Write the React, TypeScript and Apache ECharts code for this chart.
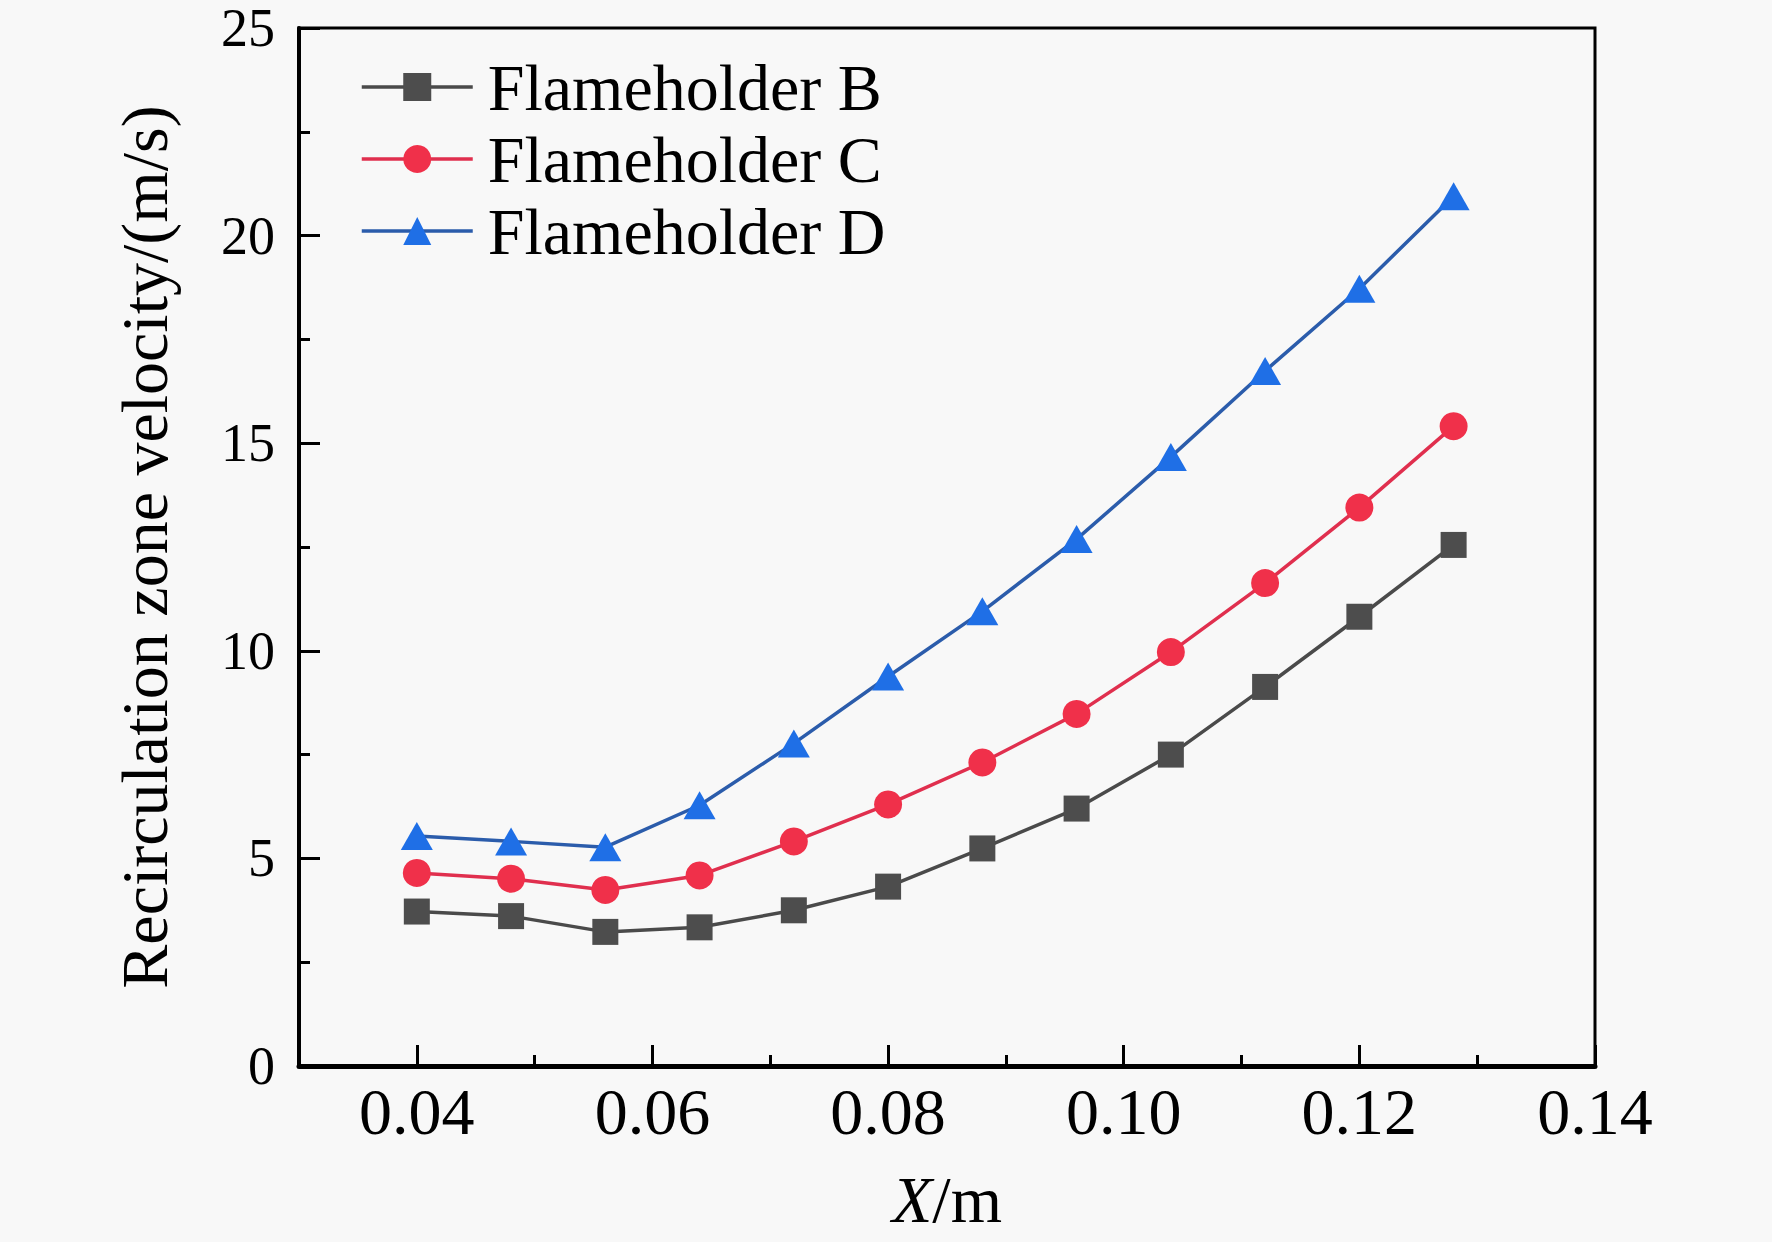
import React, { useEffect, useRef } from "react";
import * as echarts from "echarts";

const xValues = [0.04, 0.048, 0.056, 0.064, 0.072, 0.08, 0.088, 0.096, 0.104, 0.112, 0.12, 0.128];
const seriesB = [3.72, 3.61, 3.23, 3.34, 3.75, 4.32, 5.24, 6.2, 7.5, 9.13, 10.82, 12.55];
const seriesC = [4.65, 4.51, 4.24, 4.59, 5.41, 6.3, 7.31, 8.48, 9.97, 11.63, 13.45, 15.41];
const seriesD = [5.54, 5.41, 5.27, 6.28, 7.77, 9.38, 10.95, 12.69, 14.67, 16.74, 18.72, 20.95];
const xMajorTicks = [0.04, 0.06, 0.08, 0.1, 0.12, 0.14];
const xMinorTicks = [0.05, 0.07, 0.09, 0.11, 0.13];
const seriesNames = ["Flameholder B", "Flameholder C", "Flameholder D"];

const FONT = "'Liberation Serif', 'Times New Roman', serif";

export default function App() {
  const ref = useRef<HTMLDivElement>(null);
  useEffect(() => {
    if (!ref.current) return;
    const chart = echarts.init(ref.current, null, { renderer: "svg" });
    const pair = (ys: number[]) => xValues.map((x, i) => [x, ys[i]]);
    chart.setOption({
      animation: false,
      backgroundColor: "#f8f8f8",
      textStyle: { fontFamily: FONT },
      grid: {
        left: 299,
        top: 28,
        right: 177,
        bottom: 176,
        show: true,
        borderColor: "#000",
        borderWidth: 3,
        backgroundColor: "transparent",
      },
      legend: {
        left: 355,
        top: 49,
        orient: "vertical",
        itemWidth: 111,
        itemHeight: 35,
        itemGap: 6,
        lineStyle: { width: 3.5 },
        textStyle: {
          fontFamily: FONT,
          fontSize: 66,
          lineHeight: 66,
          color: "#000",
          padding: [0, 0, 0, 10],
        },
        data: seriesNames,
      },
      xAxis: [
        {
          type: "value",
          min: 0.03,
          max: 0.14,
          position: "bottom",
          name: "{i|X}/m",
          nameLocation: "middle",
          nameGap: 100,
          nameTextStyle: {
            fontFamily: FONT,
            fontSize: 66,
            color: "#000",
            rich: {
              i: { fontFamily: FONT, fontSize: 66, fontStyle: "italic", color: "#000" },
            },
          },
          axisLine: { show: true, lineStyle: { color: "#000", width: 5 } },
          axisTick: {
            show: true,
            inside: true,
            length: 21,
            lineStyle: { color: "#000", width: 3 },
            customValues: xMajorTicks,
          },
          axisLabel: {
            show: true,
            fontFamily: FONT,
            fontSize: 66,
            color: "#000",
            margin: 12,
            customValues: xMajorTicks,
            formatter: (v: number) => v.toFixed(2),
          },
          splitLine: { show: false },
        },
        {
          type: "value",
          min: 0.03,
          max: 0.14,
          position: "bottom",
          axisLine: { show: false },
          axisTick: {
            show: true,
            inside: true,
            length: 11,
            lineStyle: { color: "#000", width: 3 },
            customValues: xMinorTicks,
          },
          axisLabel: { show: false },
          splitLine: { show: false },
        },
      ],
      yAxis: {
        type: "value",
        min: 0,
        max: 25,
        interval: 5,
        name: "Recirculation zone velocity/(m/s)",
        nameLocation: "middle",
        nameGap: 122,
        nameTextStyle: { fontFamily: FONT, fontSize: 66, color: "#000" },
        axisLine: { show: true, lineStyle: { color: "#000", width: 4 } },
        axisTick: { show: true, inside: true, length: 21, lineStyle: { color: "#000", width: 3 } },
        minorTick: { show: true, splitNumber: 2, length: 11, lineStyle: { color: "#000", width: 3 } },
        axisLabel: { fontFamily: FONT, fontSize: 54, lineHeight: 40, color: "#000", margin: 24 },
        splitLine: { show: false },
        minorSplitLine: { show: false },
      },
      series: [
        {
          name: seriesNames[0],
          type: "line",
          xAxisIndex: 0,
          data: pair(seriesB),
          symbol: "rect",
          symbolSize: 26,
          itemStyle: { color: "#4d4d4d" },
          lineStyle: { color: "#4a4a4a", width: 3.5 },
        },
        {
          name: seriesNames[1],
          type: "line",
          xAxisIndex: 0,
          data: pair(seriesC),
          symbol: "circle",
          symbolSize: 28,
          itemStyle: { color: "#f0304a" },
          lineStyle: { color: "#e02f4e", width: 3.5 },
        },
        {
          name: seriesNames[2],
          type: "line",
          xAxisIndex: 0,
          data: pair(seriesD),
          symbol: "triangle",
          symbolSize: [32, 28],
          itemStyle: { color: "#1f6fe6" },
          lineStyle: { color: "#2b5cab", width: 3.5 },
        },
      ],
    });
    return () => chart.dispose();
  }, []);
  return (
    <div
      ref={ref}
      style={{ position: "absolute", left: 0, top: 0, width: 1772, height: 1242 }}
    />
  );
}
